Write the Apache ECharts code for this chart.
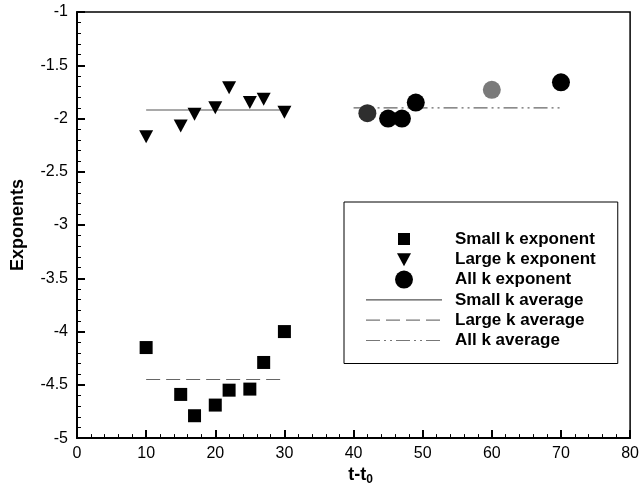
<!DOCTYPE html>
<html>
<head>
<meta charset="utf-8">
<script src="https://cdn.jsdelivr.net/npm/echarts@6/dist/echarts.min.js"></script>
<style>
  html, body { margin: 0; padding: 0; background: #fff; }
  #chart { width: 642px; height: 491px; }
</style>
</head>
<body>
<div id="chart"></div>
<script>
// Exponent fits against elapsed time t - t0
const smallK_t   = [10, 15, 17, 20, 22, 25, 27, 30];
const smallK_exp = [-4.15, -4.59, -4.79, -4.69, -4.55, -4.54, -4.29, -4.00];

const largeK_t   = [10, 15, 17, 20, 22, 25, 27, 30];
const largeK_exp = [-2.17, -2.07, -1.96, -1.90, -1.71, -1.85, -1.82, -1.94];

const allK_t   = [42, 45, 47, 49, 60, 70];
const allK_exp = [-1.95, -2.00, -2.00, -1.85, -1.73, -1.66];

// Average levels and the time span each one covers
const avgSolid_t = [10, 30.5], avgSolid = -1.92;
const avgDashed_t = [10, 30], avgDashed = -4.45;
const avgDashDot_t = [40, 70], avgDashDot = -1.90;

const xTicks = { min: 0, max: 80, step: 10 };
const yTicks = { min: -5, max: -1, step: 0.5 };

const pairs = (xs, ys) => xs.map((x, i) => [x, Array.isArray(ys) ? ys[i] : ys]);

const FONT = '"Liberation Sans", Arial, Helvetica, sans-serif';
const TRI_DOWN = 'path://M0,0 L14,0 L7,13 Z';

// legend glyphs padded inside a fixed frame so they keep their own size
const LEG_W = 76, LEG_H = 18;
const LEG_SQUARE = 'path://M0,0 M18,18 M3,3 L15,3 L15,15 L3,15 Z';
const LEG_TRI = 'path://M0,0 M18,18 M2,3 L16,3 L9,16 Z';

const SOLID_DASH = 'solid', LONG_DASH = [14, 6], DASH_DOT_DOT = [14, 4, 2, 4, 2, 4];

// legend line sample: thin filled strips following a dash pattern
function lineIcon(pattern) {
  const t = 1.2, y0 = (LEG_H - t) / 2;
  const seq = pattern === 'solid' ? [LEG_W, 0] : pattern;
  let d = `M0,0 M${LEG_W},${LEG_H} `;
  let x = 0, k = 0;
  while (x < LEG_W) {
    const len = seq[k % seq.length];
    if (k % 2 === 0) {
      const x1 = Math.min(x + len, LEG_W);
      d += `M${x},${y0} L${x1},${y0} L${x1},${y0 + t} L${x},${y0 + t} Z `;
    }
    x += len;
    k++;
    if (len === 0 && k > 2) break;
  }
  return 'path://' + d;
}

const chart = echarts.init(document.getElementById('chart'));

chart.setOption({
  animation: false,
  backgroundColor: '#fff',
  textStyle: { fontFamily: FONT, color: '#000' },
  grid: {
    left: 77, right: 8, top: 12, bottom: 48,
    show: true, borderColor: '#000', borderWidth: 1.5, backgroundColor: 'transparent'
  },
  xAxis: {
    type: 'value',
    min: xTicks.min, max: xTicks.max, interval: xTicks.step,
    name: 't-t{sub|0}',
    nameLocation: 'middle',
    nameGap: 16,
    nameTextStyle: {
      fontFamily: FONT, fontSize: 18, fontWeight: 'bold', color: '#000',
      padding: [0, 0, 0, 14],
      rich: {
        sub: { fontFamily: FONT, fontSize: 12, fontWeight: 'bold', color: '#000', padding: [10, 0, 0, 0] }
      }
    },
    axisLine: { show: true, lineStyle: { color: '#000', width: 2 } },
    axisTick: { show: true, inside: true, length: 8, lineStyle: { color: '#000', width: 2 } },
    minorTick: { show: true, splitNumber: 5, length: 4, lineStyle: { color: '#000', width: 1 } },
    axisLabel: { fontFamily: FONT, fontSize: 16, color: '#000', margin: 7 },
    splitLine: { show: false }
  },
  yAxis: {
    type: 'value',
    min: yTicks.min, max: yTicks.max, interval: yTicks.step,
    name: 'Exponents',
    nameLocation: 'middle',
    nameRotate: 90,
    nameGap: 50,
    nameTextStyle: { fontFamily: FONT, fontSize: 18, fontWeight: 'bold', color: '#000' },
    axisLine: { show: true, lineStyle: { color: '#000', width: 2 } },
    axisTick: { show: true, inside: true, length: 8, lineStyle: { color: '#000', width: 2 } },
    minorTick: { show: true, splitNumber: 5, length: 4, lineStyle: { color: '#000', width: 1 } },
    axisLabel: { fontFamily: FONT, fontSize: 16, color: '#000', margin: 9 },
    splitLine: { show: false }
  },
  legend: {
    orient: 'vertical',
    left: 344, top: 202,
    width: 274,
    padding: [28, 22, 14, 22],
    borderColor: '#000', borderWidth: 1,
    backgroundColor: '#fff',
    itemWidth: LEG_W, itemHeight: LEG_H, itemGap: 2.3,
    selectedMode: false,
    textStyle: { fontFamily: FONT, fontSize: 17, fontWeight: 'bold', color: '#000', padding: [0, 0, 0, 8], lineHeight: 18 },
    data: [
      { name: 'Small k exponent', icon: LEG_SQUARE, itemStyle: { color: '#000' } },
      { name: 'Large k exponent', icon: LEG_TRI, itemStyle: { color: '#000' } },
      { name: 'All k exponent', icon: 'circle', itemStyle: { color: '#000' } },
      { name: 'Small k average', icon: lineIcon(SOLID_DASH), itemStyle: { color: '#555' } },
      { name: 'Large k average', icon: lineIcon(LONG_DASH), itemStyle: { color: '#777' } },
      { name: 'All k average', icon: lineIcon(DASH_DOT_DOT), itemStyle: { color: '#777' } }
    ]
  },
  series: [
    {
      name: 'Small k average', type: 'line', symbol: 'none',
      data: pairs(avgSolid_t, avgSolid),
      lineStyle: { color: '#555', width: 1.2, type: SOLID_DASH },
      itemStyle: { color: '#555' }, z: 1
    },
    {
      name: 'Large k average', type: 'line', symbol: 'none',
      data: pairs(avgDashed_t, avgDashed),
      lineStyle: { color: '#666', width: 1.2, type: LONG_DASH },
      itemStyle: { color: '#666' }, z: 1
    },
    {
      name: 'All k average', type: 'line', symbol: 'none',
      data: pairs(avgDashDot_t, avgDashDot),
      lineStyle: { color: '#666', width: 1.2, type: DASH_DOT_DOT },
      itemStyle: { color: '#666' }, z: 1
    },
    {
      name: 'Small k exponent', type: 'scatter', symbol: 'rect', symbolSize: 13,
      data: pairs(smallK_t, smallK_exp),
      itemStyle: { color: '#000', opacity: 1 }, z: 3
    },
    {
      name: 'Large k exponent', type: 'scatter', symbol: TRI_DOWN, symbolSize: [14, 13],
      data: pairs(largeK_t, largeK_exp),
      itemStyle: { color: '#000', opacity: 1 }, z: 3
    },
    {
      name: 'All k exponent', type: 'scatter', symbol: 'circle', symbolSize: 18,
      data: pairs(allK_t, allK_exp),
      itemStyle: {
        opacity: 1,
        color: p => (p.dataIndex === 4 ? '#7a7a7a' : p.dataIndex === 0 ? '#2e2e2e' : '#000')
      }, z: 3
    }
  ]
});
</script>
</body>
</html>
